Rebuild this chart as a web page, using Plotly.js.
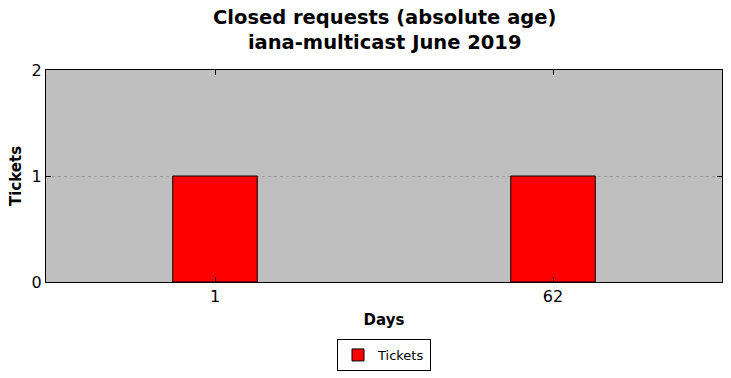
<!DOCTYPE html>
<html>
<head>
<meta charset="utf-8">
<script src="https://cdn.plot.ly/plotly-3.0.1.min.js"></script>
<style>html,body{margin:0;padding:0;background:#fff;}#chart{width:731px;height:378px;}</style>
</head>
<body>
<div id="chart"></div>
<script>
var categories = ["1", "62"];
var tickets = [1, 1];
var seriesName = "Tickets";
var yTicks = [0, 1, 2];
var titleLines = ["Closed requests (absolute age)", "iana-multicast June 2019"];

var trace = {
  type: "bar",
  x: categories,
  y: tickets,
  name: seriesName,
  width: 0.25,
  marker: {color: "#ff0000", line: {color: "#000000", width: 1}},
  hoverinfo: "x+y"
};

var layout = {
  width: 731,
  height: 378,
  margin: {l: 46, r: 9, t: 70, b: 96},
  paper_bgcolor: "#ffffff",
  plot_bgcolor: "#bfbfbf",
  font: {family: "DejaVu Sans", color: "#000000"},
  annotations: [{
    text: "<b>" + titleLines[0] + "</b><br><b>" + titleLines[1] + "</b>",
    font: {family: "DejaVu Sans", size: 19.5, color: "#000000"},
    xref: "paper", x: 0.5, xanchor: "center",
    yref: "paper", y: 1 + 40 / 212, yanchor: "middle",
    showarrow: false
  }],
  xaxis: {
    type: "category",
    range: [-0.5, 1.5],
    showgrid: false,
    showline: true, linecolor: "#000000", linewidth: 1, mirror: "ticks",
    ticks: "inside", ticklen: 5, tickcolor: "#000000",
    tickfont: {size: 16},
    title: {text: "<b>Days</b>", font: {size: 15}, standoff: 9},
    zeroline: false
  },
  yaxis: {
    range: [0, 2],
    tickvals: yTicks,
    ticktext: yTicks.map(String),
    showgrid: true, gridcolor: "#9a9a9a", griddash: "dot", gridwidth: 1,
    showline: true, linecolor: "#000000", linewidth: 1, mirror: "ticks",
    ticks: "inside", ticklen: 5, tickcolor: "#000000",
    tickfont: {size: 16},
    title: {text: "<b>Tickets</b>", font: {size: 15}, standoff: 6},
    zeroline: false
  },
  showlegend: true,
  legend: {
    orientation: "h",
    x: 0.5, xanchor: "center",
    yref: "container",
    y: 1 - 339 / 378, yanchor: "top",
    bordercolor: "#000000", borderwidth: 1,
    bgcolor: "#ffffff",
    font: {size: 13}
  },
  bargap: 0
};

Plotly.newPlot("chart", [trace], layout, {displayModeBar: false, staticPlot: true});
</script>
</body>
</html>
